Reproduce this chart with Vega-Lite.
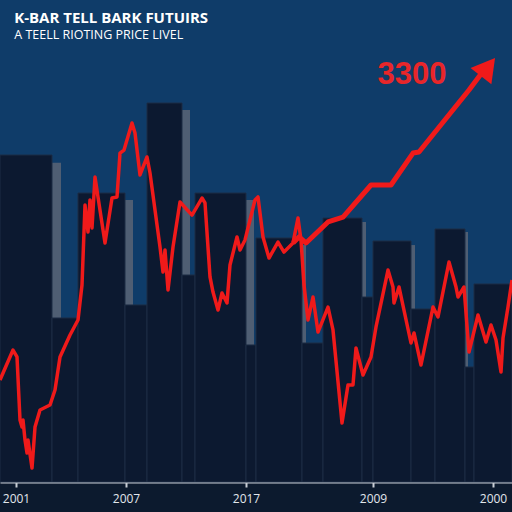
{
  "$schema": "https://vega.github.io/schema/vega-lite/v6.json",
  "autosize": {"type": "none"},
  "padding": {"left": 0, "top": 0, "right": 0, "bottom": 30},
  "width": 512,
  "height": 482,
  "background": "#0c1a2e",
  "title": {
    "text": "K-BAR TELL BARK FUTUIRS",
    "subtitle": "A TEELL RIOTING PRICE LIVEL",
    "anchor": "start",
    "offset": -41,
    "dx": 16,
    "font": "Open Sans",
    "fontSize": 15,
    "fontWeight": "bold",
    "color": "#ffffff",
    "subtitleFont": "Open Sans",
    "subtitleFontSize": 12.5,
    "subtitleColor": "#ffffff",
    "subtitlePadding": 3
  },
  "config": {
    "view": {"stroke": null, "fill": "#0f3c69"},
    "axis": {"grid": false}
  },
  "datasets": {
    "bars": [
      {"x0": 0, "x1": 52, "top": 2510},
      {"x0": 52, "x1": 78, "top": 1259},
      {"x0": 78, "x1": 125, "top": 2218},
      {"x0": 125, "x1": 147, "top": 1359},
      {"x0": 147, "x1": 182, "top": 2909},
      {"x0": 182, "x1": 195, "top": 1589},
      {"x0": 195, "x1": 246, "top": 2218},
      {"x0": 246, "x1": 256, "top": 1052},
      {"x0": 256, "x1": 302, "top": 1873},
      {"x0": 302, "x1": 323, "top": 1067},
      {"x0": 323, "x1": 362, "top": 2026},
      {"x0": 362, "x1": 373, "top": 1420},
      {"x0": 373, "x1": 411, "top": 1850},
      {"x0": 411, "x1": 435, "top": 1328},
      {"x0": 435, "x1": 465, "top": 1942},
      {"x0": 465, "x1": 474, "top": 883},
      {"x0": 474, "x1": 512, "top": 1520}
    ],
    "sides": [
      {"x0": 52, "x1": 61, "top": 2450},
      {"x0": 125, "x1": 133, "top": 2165},
      {"x0": 182, "x1": 190, "top": 2855},
      {"x0": 246, "x1": 254, "top": 2165},
      {"x0": 302, "x1": 306, "top": 1819},
      {"x0": 362, "x1": 366, "top": 1996},
      {"x0": 411, "x1": 415, "top": 1819},
      {"x0": 465, "x1": 468, "top": 1919}
    ],
    "price": [
      {"t": 0, "p": 783}, {"t": 13, "p": 1013}, {"t": 17, "p": 960}, {"t": 20, "p": 476},
      {"t": 22, "p": 422}, {"t": 23, "p": 476}, {"t": 25, "p": 322}, {"t": 27, "p": 223},
      {"t": 28, "p": 322}, {"t": 32, "p": 107}, {"t": 35, "p": 422}, {"t": 40, "p": 553},
      {"t": 50, "p": 591}, {"t": 55, "p": 706}, {"t": 60, "p": 960}, {"t": 70, "p": 1128},
      {"t": 78, "p": 1244}, {"t": 82, "p": 1512}, {"t": 85, "p": 2126}, {"t": 88, "p": 1919},
      {"t": 90, "p": 2165}, {"t": 92, "p": 1950}, {"t": 95, "p": 2341}, {"t": 98, "p": 2188},
      {"t": 105, "p": 1835}, {"t": 112, "p": 2180}, {"t": 117, "p": 2188}, {"t": 120, "p": 2525},
      {"t": 124, "p": 2548}, {"t": 132, "p": 2756}, {"t": 135, "p": 2679}, {"t": 140, "p": 2357},
      {"t": 147, "p": 2495}, {"t": 150, "p": 2372}, {"t": 160, "p": 1804}, {"t": 163, "p": 1612},
      {"t": 165, "p": 1781}, {"t": 168, "p": 1474}, {"t": 173, "p": 1804}, {"t": 180, "p": 2149},
      {"t": 192, "p": 2049}, {"t": 202, "p": 2180}, {"t": 205, "p": 2142}, {"t": 210, "p": 1574},
      {"t": 213, "p": 1458}, {"t": 218, "p": 1320}, {"t": 222, "p": 1451}, {"t": 227, "p": 1374},
      {"t": 230, "p": 1666}, {"t": 237, "p": 1881}, {"t": 240, "p": 1781}, {"t": 245, "p": 1858},
      {"t": 255, "p": 2165}, {"t": 258, "p": 2188}, {"t": 263, "p": 1881}, {"t": 269, "p": 1719},
      {"t": 278, "p": 1842}, {"t": 284, "p": 1765}, {"t": 293, "p": 1835}, {"t": 298, "p": 2026},
      {"t": 301, "p": 1858}, {"t": 304, "p": 1512}, {"t": 308, "p": 1244}, {"t": 313, "p": 1420},
      {"t": 318, "p": 1151}, {"t": 328, "p": 1343}, {"t": 333, "p": 1167}, {"t": 342, "p": 453},
      {"t": 348, "p": 745}, {"t": 353, "p": 745}, {"t": 356, "p": 1029}, {"t": 363, "p": 821},
      {"t": 371, "p": 960}, {"t": 376, "p": 1190}, {"t": 388, "p": 1627}, {"t": 393, "p": 1497},
      {"t": 394, "p": 1374}, {"t": 399, "p": 1497}, {"t": 411, "p": 1067}, {"t": 414, "p": 1144},
      {"t": 421, "p": 898}, {"t": 433, "p": 1343}, {"t": 438, "p": 1267}, {"t": 449, "p": 1689},
      {"t": 456, "p": 1497}, {"t": 458, "p": 1420}, {"t": 464, "p": 1497}, {"t": 469, "p": 998},
      {"t": 478, "p": 1282}, {"t": 486, "p": 1075}, {"t": 491, "p": 1205}, {"t": 496, "p": 1090},
      {"t": 501, "p": 844}, {"t": 503, "p": 1105}, {"t": 508, "p": 1343}, {"t": 512, "p": 1551}
    ],
    "trend": [
      {"t": 293, "p": 1835}, {"t": 299, "p": 1881}, {"t": 306, "p": 1835}, {"t": 328, "p": 1996},
      {"t": 343, "p": 2034}, {"t": 371, "p": 2280}, {"t": 391, "p": 2280}, {"t": 413, "p": 2525},
      {"t": 419, "p": 2533}, {"t": 469, "p": 3009}, {"t": 484, "p": 3163}
    ],
    "head": [{"t": 488, "p": 3185}],
    "label": [{"t": 412, "p": 3124, "txt": "3300"}]
  },
  "layer": [
    {
      "data": {"name": "sides"},
      "mark": {"type": "rect", "color": "#4f5e73"},
      "encoding": {
        "x": {"field": "x0", "type": "quantitative", "scale": {"domain": [0, 512], "nice": false, "zero": false},
          "axis": {
            "values": [16, 126, 246, 373, 493],
            "labelExpr": "datum.value == 16 ? '2001' : datum.value == 126 ? '2007' : datum.value == 246 ? '2017' : datum.value == 373 ? '2009' : '2000'",
            "title": null,
            "domainColor": "#c9ced6",
            "domainWidth": 2,
            "tickColor": "#c9ced6",
            "tickWidth": 2,
            "tickSize": 5,
            "labelColor": "#e2e6ec",
            "labelFont": "Open Sans",
            "labelFontSize": 12,
            "labelPadding": 6,
            "labelFlush": false
          }},
        "x2": {"field": "x1"},
        "y": {"field": "top", "type": "quantitative", "scale": {"domain": [0, 3700], "nice": false}, "axis": null},
        "y2": {"datum": 0}
      }
    },
    {
      "data": {"name": "bars"},
      "mark": {"type": "rect", "color": "#0c1930", "stroke": "#1c2c45", "strokeWidth": 1},
      "encoding": {
        "x": {"field": "x0", "type": "quantitative"},
        "x2": {"field": "x1"},
        "y": {"field": "top", "type": "quantitative"},
        "y2": {"datum": 0}
      }
    },
    {
      "data": {"name": "price"},
      "mark": {"type": "line", "color": "#f01a1a", "strokeWidth": 3.5, "strokeJoin": "round"},
      "encoding": {
        "x": {"field": "t", "type": "quantitative"},
        "y": {"field": "p", "type": "quantitative"}
      }
    },
    {
      "data": {"name": "trend"},
      "mark": {"type": "line", "color": "#f01a1a", "strokeWidth": 5, "strokeJoin": "round"},
      "encoding": {
        "x": {"field": "t", "type": "quantitative"},
        "y": {"field": "p", "type": "quantitative"}
      }
    },
    {
      "data": {"name": "head"},
      "mark": {"type": "point", "shape": "triangle-up", "filled": true, "color": "#f01a1a", "opacity": 1, "size": 700, "angle": 38},
      "encoding": {
        "x": {"field": "t", "type": "quantitative"},
        "y": {"field": "p", "type": "quantitative"}
      }
    },
    {
      "data": {"name": "label"},
      "mark": {"type": "text", "color": "#e8262a", "font": "Liberation Sans", "fontSize": 31, "fontWeight": "bold", "align": "center", "baseline": "middle"},
      "encoding": {
        "x": {"field": "t", "type": "quantitative"},
        "y": {"field": "p", "type": "quantitative"},
        "text": {"field": "txt"}
      }
    }
  ]
}
